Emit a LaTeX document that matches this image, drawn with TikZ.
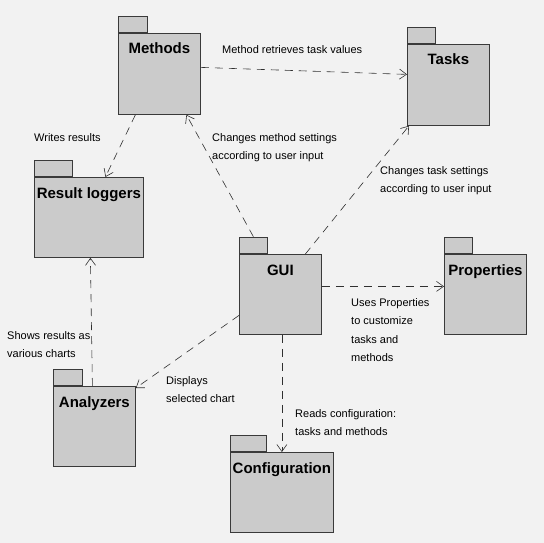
\documentclass[tikz,border=0pt]{standalone}
\usepackage{fontspec}
\setmainfont{Liberation Sans}
\usetikzlibrary{arrows.meta}
\definecolor{bg}{HTML}{F2F2F2}
\definecolor{boxfill}{HTML}{CBCBCB}
\definecolor{boxline}{HTML}{3A3A3A}
\definecolor{conn}{HTML}{303030}
\tikzset{
  body/.style={draw=boxline, fill=boxfill, line width=0.8pt, anchor=north west, inner sep=0pt},
  tabbox/.style={draw=boxline, fill=boxfill, line width=0.8pt, anchor=south west, inner sep=0pt, minimum height=16.5pt},
  title/.style={font=\bfseries\fontsize{15}{18}\selectfont, anchor=base, inner sep=0pt},
  lbl/.style={font=\fontsize{11}{18.5}\selectfont, align=left, anchor=north west, inner sep=0pt},
  dep/.style={draw=conn, line width=0.6pt, dash pattern=on 8pt off 6pt, -{Straight Barb[length=7pt,width=10pt]}}
}
\newcommand\pkgbox[7]{% name, x, y, w, h, tabw, title
  \node[body, minimum width=#4pt, minimum height=#5pt] (#1) at (#2,#3) {};
  \node[tabbox, minimum width=#6pt] (#1tab) at (#2,#3) {};
  \node[title] (#1title) at ([yshift=-21pt]#1.north) {#7};
}
\begin{document}
\begin{tikzpicture}[x=1pt,y=-1pt]
\fill[bg] (0,0) rectangle (544,543);
\useasboundingbox (0,0) rectangle (544,543);

\pkgbox{methods}{118}{33}{82}{81}{29}{Methods}
\pkgbox{tasks}{407}{44}{82}{81}{28}{Tasks}
\pkgbox{rl}{34}{177}{109}{80}{38}{Result loggers}
\pkgbox{gui}{239}{254}{82}{80}{28}{GUI}
\pkgbox{props}{444}{254}{82}{80}{28}{Properties}
\pkgbox{anal}{53}{386}{82}{80}{29}{Analyzers}
\pkgbox{conf}{230}{452}{103}{80}{36}{Configuration}

% connectors
\draw[dep] ([yshift=6.5pt]methods.east) -- ([yshift=10.5pt]tasks.west);
\draw[dep] ([xshift=-24pt]methods.south) -- ([xshift=16.5pt]rl.north);
\draw[dep] (guitab.north) -- ([xshift=27pt]methods.south);
\draw[dep] ([xshift=25pt]gui.north) -- ([xshift=2pt]tasks.south west);
\draw[dep] ([yshift=8pt]gui.east) -- ([yshift=8pt]props.west);
\draw[dep] ([yshift=-21pt]gui.west) -- ([yshift=-2pt]anal.north east);
\draw[dep] ([xshift=-2pt]anal.north) -- ([xshift=1.5pt]rl.south);
\draw[dep] ([xshift=1.5pt]gui.south) -- (conf.north);

% labels
\node[lbl] (l1) at (222,45) {Method retrieves task values};
\node[lbl] (l2) at (34,133) {Writes results};
\node[lbl] (l3) at (212,133) {Changes method settings\\according to user input};
\node[lbl] (l4) at (380,166) {Changes task settings\\according to user input};
\node[lbl] (l5) at (351,298) {Uses Properties\\to customize\\tasks and\\methods};
\node[lbl] (l6) at (7,331) {Shows results as\\various charts};
\node[lbl] (l7) at (166,376) {Displays\\selected chart};
\node[lbl] (l8) at (295,409) {Reads configuration:\\tasks and methods};
\end{tikzpicture}
\end{document}
